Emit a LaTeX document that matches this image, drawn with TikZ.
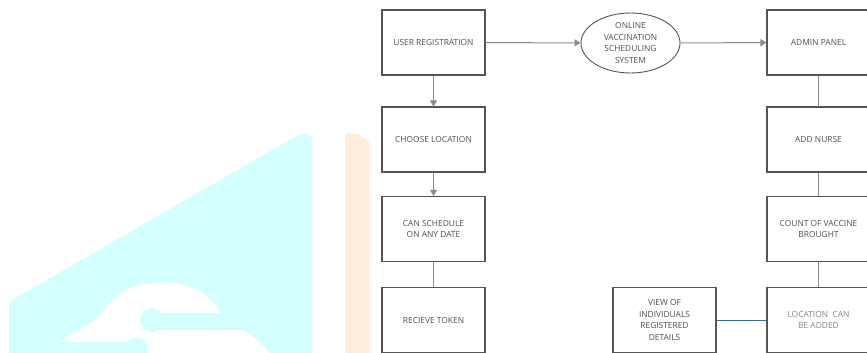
\documentclass[tikz,border=0pt]{standalone}
\usepackage{fontspec}
\setmainfont{Open Sans}
\usetikzlibrary{arrows.meta,shapes.geometric}
\definecolor{wmcyan}{HTML}{D4FFFF}
\definecolor{wmpeach}{HTML}{FFEDDB}
\definecolor{boxline}{HTML}{555555}
\definecolor{boxtext}{HTML}{505050}
\definecolor{linkline}{HTML}{8A8A8A}
\definecolor{bluelink}{HTML}{3E6F8E}
\tikzset{
  stagebox/.style={draw=boxline,line width=1.1pt,minimum width=103pt,minimum height=65pt,
    align=center,text=boxtext,font=\fontsize{8.4}{11.7}\selectfont,inner sep=1pt},
  sysoval/.style={ellipse,draw=boxline,line width=0.9pt,minimum width=99pt,minimum height=60pt,
    align=center,text=boxtext,font=\fontsize{8.4}{11.7}\selectfont,inner sep=0pt},
  flow/.style={linkline,line width=1pt,-{Triangle[length=6pt,width=7pt]}},
  link/.style={linkline,line width=1pt}
}
\begin{document}
\begin{tikzpicture}[x=1pt,y=-1pt]
        \useasboundingbox (0,0) rectangle (867,353);
        \clip (0,0) rectangle (867,353);
        %WATERMARK
        \fill[wmcyan] (9,353) -- (9,305) -- (12,300) -- (300,134) -- (306,133) -- (312,138) -- (312,353) -- cycle;
        \fill[white] plot [smooth, tension=0.6] coordinates {(60,342) (70,335) (93,321) (117,296) (140,285) (173,283) (197,290) (213,302) (220,313)}
              -- (243,330) .. controls (255,338) and (263,345) .. (270,353) -- (147,353) -- (147,343)
              .. controls (145,336) and (129,336) .. (127,342) -- cycle;
        \fill[wmcyan] (152,320) circle (12);
        \fill[wmcyan] (152,313) rectangle (243,330);
        \fill[wmpeach] (345,137) -- (348,133) -- (358,134) -- (369,142) -- (369,353) -- (345,353) -- cycle;

        %LEFT COLUMN
        \node[stagebox] (user) at (433.5,42.5) {USER REGISTRATION};
        \node[stagebox] (choose) at (433.5,139.5) {CHOOSE LOCATION};
        \node[stagebox] (schedule) at (433.5,229) {CAN SCHEDULE\\ON ANY DATE};
        \node[stagebox] (token) at (433.5,320) {RECIEVE TOKEN};

        %MIDDLE
        \node[sysoval] (system) at (630.5,43) {ONLINE\\VACCINATION\\SCHEDULING\\SYSTEM};
        \node[stagebox] (view) at (664.5,320) {VIEW OF\\INDIVIDUALS\\REGISTERED\\DETAILS};

        %RIGHT COLUMN
        \node[stagebox] (admin) at (818.5,42.5) {ADMIN PANEL};
        \node[stagebox] (nurse) at (818.5,139.5) {ADD NURSE};
        \node[stagebox] (count) at (818.5,229) {COUNT OF VACCINE\\BROUGHT};
        \node[stagebox,text=boxtext!70] (addloc) at (818.5,320) {LOCATION\ \ CAN\\BE ADDED};

        %CONNECTORS
        \draw[flow] (user) -- (system);
        \draw[flow] (system) -- (admin);
        \draw[flow] (user) -- (choose);
        \draw[flow] (choose) -- (schedule);
        \draw[link] (schedule) -- (token);
        \draw[link] (admin) -- (nurse);
        \draw[link] (nurse) -- (count);
        \draw[link] (count) -- (addloc);
        \draw[bluelink,line width=1pt] (view) -- (addloc);
    \end{tikzpicture}
\end{document}
